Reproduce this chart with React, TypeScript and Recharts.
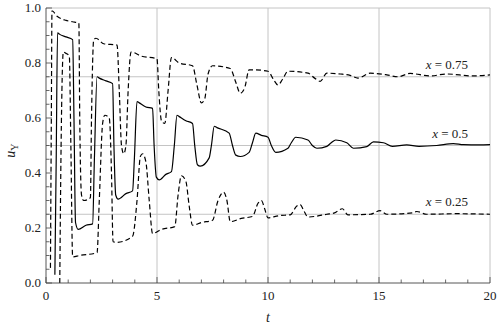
import { LineChart, Line, XAxis, YAxis, ReferenceLine, Label } from "recharts";

// [t, u] samples, one list per curve
const upper75: [number, number][] = [
  [0.2, 0.055], [0.24, 0.6], [0.27, 0.99], [0.5, 0.97], [0.9, 0.955], [1.2, 0.95], [1.48, 0.945],
  [1.52, 0.6], [1.6, 0.32], [1.7, 0.3], [2.0, 0.31], [2.05, 0.6], [2.15, 0.885], [2.25, 0.89],
  [2.6, 0.87], [3.2, 0.865], [3.3, 0.7], [3.4, 0.5], [3.5, 0.47], [3.6, 0.5], [3.7, 0.7],
  [3.83, 0.84], [4.3, 0.825], [5.0, 0.815], [5.08, 0.7], [5.2, 0.59], [5.35, 0.58], [5.5, 0.7],
  [5.65, 0.82], [6.0, 0.8], [6.6, 0.79], [6.8, 0.72], [7.0, 0.655], [7.15, 0.67], [7.3, 0.76],
  [7.5, 0.79], [8.3, 0.78], [8.55, 0.73], [8.75, 0.69], [8.95, 0.71], [9.15, 0.775], [9.4, 0.775],
  [10.0, 0.77], [10.25, 0.74], [10.45, 0.72], [10.65, 0.74], [10.9, 0.77], [11.8, 0.763],
  [12.1, 0.745], [12.35, 0.733], [12.65, 0.763], [13.25, 0.76], [13.7, 0.755], [14.05, 0.745],
  [14.6, 0.763], [15.35, 0.757], [15.85, 0.75], [16.4, 0.762], [17.3, 0.753], [18.05, 0.76],
  [19.2, 0.753], [20, 0.757],
];

const mid50: [number, number][] = [
  [0.4, 0.03], [0.46, 0.45], [0.52, 0.91], [0.6, 0.905], [0.9, 0.895], [1.2, 0.885], [1.26, 0.6],
  [1.33, 0.22], [1.45, 0.195], [1.8, 0.21], [2.1, 0.215], [2.18, 0.45], [2.3, 0.75], [2.4, 0.745],
  [2.7, 0.735], [3.0, 0.725], [3.06, 0.5], [3.14, 0.32], [3.25, 0.305], [3.6, 0.325], [3.9, 0.335],
  [3.98, 0.45], [4.1, 0.66], [4.2, 0.655], [4.5, 0.64], [4.8, 0.635], [4.87, 0.5], [4.97, 0.385],
  [5.1, 0.375], [5.4, 0.395], [5.65, 0.405], [5.78, 0.5], [5.9, 0.61], [6.0, 0.605], [6.3, 0.59],
  [6.6, 0.58], [6.7, 0.5], [6.82, 0.43], [6.95, 0.425], [7.35, 0.455], [7.45, 0.5], [7.58, 0.57],
  [7.7, 0.565], [8.25, 0.545], [8.4, 0.5], [8.55, 0.465], [8.75, 0.46], [9.15, 0.475], [9.3, 0.51],
  [9.45, 0.545], [9.7, 0.537], [10.0, 0.53], [10.15, 0.5], [10.35, 0.475], [10.9, 0.49],
  [11.05, 0.51], [11.25, 0.53], [11.8, 0.52], [12.0, 0.5], [12.2, 0.49], [12.65, 0.497],
  [12.85, 0.51], [13.05, 0.52], [13.55, 0.51], [13.85, 0.49], [14.45, 0.496], [14.75, 0.513],
  [15.2, 0.51], [15.6, 0.497], [16.25, 0.502], [16.8, 0.497], [17.6, 0.5], [18.35, 0.507],
  [18.8, 0.503], [19.5, 0.502], [20, 0.503],
];

const lower25: [number, number][] = [
  [0.62, 0.0], [0.68, 0.5], [0.78, 0.84], [0.9, 0.835], [1.05, 0.825], [1.12, 0.5], [1.2, 0.095],
  [1.5, 0.1], [2.3, 0.11], [2.4, 0.3], [2.55, 0.58], [2.65, 0.61], [2.85, 0.6], [2.95, 0.4],
  [3.02, 0.15], [3.2, 0.148], [3.9, 0.17], [4.1, 0.3], [4.25, 0.46], [4.35, 0.47], [4.5, 0.44],
  [4.65, 0.3], [4.8, 0.18], [5.2, 0.195], [5.8, 0.205], [5.95, 0.32], [6.1, 0.39], [6.3, 0.37],
  [6.45, 0.28], [6.6, 0.21], [7.0, 0.22], [7.5, 0.228], [7.75, 0.3], [8.0, 0.33], [8.15, 0.3],
  [8.3, 0.223], [8.8, 0.235], [9.3, 0.242], [9.55, 0.29], [9.7, 0.3], [9.85, 0.27], [10.0, 0.237],
  [10.5, 0.245], [11.0, 0.248], [11.3, 0.28], [11.45, 0.285], [11.6, 0.265], [11.8, 0.24],
  [12.65, 0.25], [13.0, 0.255], [13.35, 0.27], [13.6, 0.248], [14.6, 0.25], [15.05, 0.263],
  [15.35, 0.25], [16.5, 0.255], [16.7, 0.26], [17.15, 0.25], [18.5, 0.252], [20, 0.25],
];

const xTicks = [0, 1, 2, 3, 4, 5, 6, 7, 8, 9, 10, 11, 12, 13, 14, 15, 16, 17, 18, 19, 20];
const xLabels = [0, 5, 10, 15, 20];
const yTicks = [
  0, 0.05, 0.1, 0.15, 0.2, 0.25, 0.3, 0.35, 0.4, 0.45, 0.5, 0.55, 0.6, 0.65, 0.7, 0.75, 0.8,
  0.85, 0.9, 0.95, 1,
];
const yLabels = [0, 0.2, 0.4, 0.6, 0.8, 1];
const gridT = [5, 10, 15, 20];
const gridU = [0.25, 0.5, 0.75, 1];
const curveNames = ["x = 0.75", "x = 0.5", "x = 0.25"];

const toRows = (pts: [number, number][]) => pts.map(([t, u]) => ({ t, u }));

const SERIF = "Liberation Serif";
const AXIS = "#444";
const GRID = "#c4c4c4";

const isLabel = (list: number[], v: number) => list.some((l) => Math.abs(l - v) < 1e-6);

const XTick = (props: any) => {
  const { x, y, payload } = props;
  const v = payload.value;
  const major = isLabel(xLabels, v);
  return (
    <g>
      <line x1={x} x2={x} y1={y} y2={y - (major ? 6 : 3.5)} stroke={AXIS} strokeWidth={0.8} />
      {major && (
        <text x={x} y={y + 17} textAnchor="middle" fontFamily={SERIF} fontSize={13} fill="#222">
          {v}
        </text>
      )}
    </g>
  );
};

const YTick = (props: any) => {
  const { x, y, payload } = props;
  const v = payload.value;
  const major = isLabel(yLabels, v);
  return (
    <g>
      <line x1={x} x2={x + (major ? 6 : 3.5)} y1={y} y2={y} stroke={AXIS} strokeWidth={0.8} />
      {major && (
        <text x={x - 5} y={y + 4} textAnchor="end" fontFamily={SERIF} fontSize={13} fill="#222">
          {v.toFixed(1)}
        </text>
      )}
    </g>
  );
};

const CurveLabel = ({ viewBox, text }: any) => {
  if (!viewBox) return null;
  const [name, rest] = text.split(" = ");
  return (
    <text
      x={viewBox.x + viewBox.width - 22}
      y={viewBox.y - 8}
      textAnchor="end"
      fontFamily={SERIF}
      fontSize={13}
      fill="#222"
    >
      <tspan fontStyle="italic">{name}</tspan>
      {" = " + rest}
    </text>
  );
};

const YTitle = ({ viewBox }: any) => {
  const cy = viewBox ? viewBox.y + viewBox.height / 2 : 150;
  return (
    <text
      x={15}
      y={cy + 5}
      transform={`rotate(-90, 15, ${cy + 5})`}
      textAnchor="middle"
      fontFamily={SERIF}
      fontSize={14}
      fill="#222"
    >
      <tspan fontStyle="italic">u</tspan>
      <tspan fontSize={10} dy={3}>Υ</tspan>
    </text>
  );
};

const XTitle = ({ viewBox }: any) => {
  const cx = viewBox ? viewBox.x + viewBox.width / 2 : 268;
  return (
    <text x={cx} y={322} textAnchor="middle" fontFamily={SERIF} fontSize={14} fontStyle="italic" fill="#222">
      t
    </text>
  );
};

export default function App() {
  return (
    <div style={{ position: "absolute", left: 0, top: 0, fontFamily: SERIF }}>
      <style>{`.serif-chart text, .serif-chart tspan { font-family: "Liberation Serif", serif !important; }`}</style>
      <LineChart
        className="serif-chart"
        width={498}
        height={327}
        margin={{ top: 8, right: 8, left: 0, bottom: 0 }}
      >
        <XAxis
          dataKey="t"
          type="number"
          domain={[0, 20]}
          ticks={xTicks}
          interval={0}
          tickSize={0}
          tickMargin={0}
          tick={<XTick />}
          height={44}
          axisLine={{ stroke: AXIS, strokeWidth: 0.9 }}
          allowDataOverflow
        >
          <Label content={<XTitle />} />
        </XAxis>
        <YAxis
          type="number"
          domain={[0, 1]}
          ticks={yTicks}
          interval={0}
          tickSize={0}
          tickMargin={0}
          tick={<YTick />}
          width={46}
          axisLine={{ stroke: AXIS, strokeWidth: 0.9 }}
          allowDataOverflow
        >
          <Label content={<YTitle />} />
        </YAxis>
        {gridT.map((t) => (
          <ReferenceLine key={"gt" + t} x={t} stroke={GRID} strokeWidth={1} />
        ))}
        {gridU.map((u, i) => (
          <ReferenceLine
            key={"gu" + u}
            y={u}
            stroke={GRID}
            strokeWidth={1}
            label={i < 3 ? <CurveLabel text={curveNames[2 - i]} /> : undefined}
          />
        ))}
        <Line
          data={toRows(upper75)}
          dataKey="u"
          type="monotone"
          stroke="#000"
          strokeWidth={1.2}
          strokeDasharray="5 3"
          dot={false}
          activeDot={false}
          isAnimationActive={false}
        />
        <Line
          data={toRows(mid50)}
          dataKey="u"
          type="monotone"
          stroke="#000"
          strokeWidth={1.2}
          dot={false}
          activeDot={false}
          isAnimationActive={false}
        />
        <Line
          data={toRows(lower25)}
          dataKey="u"
          type="monotone"
          stroke="#000"
          strokeWidth={1.2}
          strokeDasharray="5 3"
          dot={false}
          activeDot={false}
          isAnimationActive={false}
        />
      </LineChart>
    </div>
  );
}
